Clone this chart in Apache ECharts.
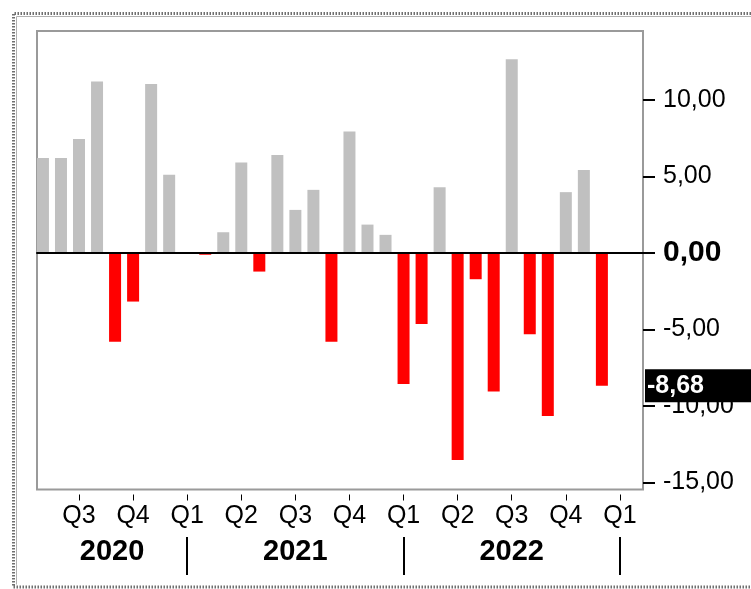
<!DOCTYPE html>
<html>
<head>
<meta charset="utf-8">
<script src="https://cdn.jsdelivr.net/npm/echarts@6/dist/echarts.min.js"></script>
<style>
html,body{margin:0;padding:0;background:#fff;}
#chart{width:751px;height:589px;}
</style>
</head>
<body>
<div id="chart"></div>
<script>
// Monthly values (month-end), April 2020 .. November 2022
const months = ['2020-04','2020-05','2020-06','2020-07','2020-08','2020-09','2020-10','2020-11','2020-12',
  '2021-01','2021-02','2021-03','2021-04','2021-05','2021-06','2021-07','2021-08','2021-09','2021-10','2021-11','2021-12',
  '2022-01','2022-02','2022-03','2022-04','2022-05','2022-06','2022-07','2022-08','2022-09','2022-10','2022-11'];
const values = [6.2, 6.2, 7.45, 11.2, -5.8, -3.18, 11.03, 5.1, 0.06,
  -0.12, 1.35, 5.9, -1.22, 6.4, 2.81, 4.12, -5.8, 7.93, 1.85, 1.18, -8.56,
  -4.64, 4.29, -13.53, -1.72, -9.06, 12.66, -5.32, -10.65, 3.97, 5.42, -8.68];
// Quarter ticks (index of the month whose end starts the quarter)
const quarterTicks = [2, 5, 8, 11, 14, 17, 20, 23, 26, 29, 32];
const quarterLabels = ['Q3','Q4','Q1','Q2','Q3','Q4','Q1','Q2','Q3','Q4','Q1'];
const yearSeparators = [8, 20, 32];
const yearLabels = ['2020', '2021', '2022'];
const yTicks = [-15, -10, -5, 0, 5, 10];
const lastValueLabel = '-8,68';

const X_MIN = -0.33, X_MAX = 33.28;
const yearLabelPos = yearSeparators.map((s, i) => ((i === 0 ? X_MIN : yearSeparators[i - 1]) + s) / 2);

const fmt = v => v.toFixed(2).replace('.', ',');
const FONT = '"Liberation Sans", Arial, sans-serif';

const chart = echarts.init(document.getElementById('chart'), null, {renderer: 'canvas'});
chart.setOption({
  animation: false,
  backgroundColor: '#fff',
  textStyle: {fontFamily: FONT},
  grid: {left: 37, top: 31, width: 606, height: 458.5, show: true, borderColor: '#9a9a9a', borderWidth: 2, backgroundColor: 'transparent'},
  xAxis: [
    {
      type: 'value', min: X_MIN, max: X_MAX, z: 5,
      axisLine: {show: true, onZero: true, lineStyle: {color: '#000', width: 2}},
      axisTick: {show: false}, axisLabel: {show: false}, splitLine: {show: false}
    },
    {
      type: 'value', min: X_MIN, max: X_MAX, position: 'bottom', offset: 5,
      axisLine: {show: false, onZero: false},
      axisTick: {show: true, customValues: quarterTicks, length: 6, lineStyle: {color: '#000', width: 1}},
      axisLabel: {
        show: true, customValues: quarterTicks, margin: 22, verticalAlign: 'middle',
        fontSize: 25, color: '#000', fontFamily: FONT,
        formatter: v => quarterLabels[quarterTicks.indexOf(Math.round(v))] || ''
      },
      splitLine: {show: false}
    },
    {
      type: 'value', min: X_MIN, max: X_MAX, position: 'bottom', offset: 47.5,
      axisLine: {show: false, onZero: false},
      axisTick: {show: true, customValues: yearSeparators, length: 38, lineStyle: {color: '#000', width: 2}},
      axisLabel: {
        show: true, customValues: yearLabelPos, margin: 15, verticalAlign: 'middle',
        fontSize: 29, fontWeight: 'bold', color: '#000', fontFamily: FONT,
        formatter: v => {
          const i = yearLabelPos.findIndex(p => Math.abs(p - v) < 0.01);
          return i >= 0 ? yearLabels[i] : '';
        }
      },
      splitLine: {show: false}
    }
  ],
  yAxis: {
    type: 'value', position: 'right', min: -15.46, max: 14.5,
    axisLine: {show: false, onZero: false},
    axisTick: {show: true, customValues: yTicks, length: 12, lineStyle: {color: '#000', width: 2}},
    axisLabel: {
      show: true, customValues: yTicks, margin: 20, fontSize: 25, color: '#000', fontFamily: FONT,
      formatter: v => v === 0 ? '{b|' + fmt(v) + '}' : fmt(v),
      rich: {b: {fontSize: 30, fontWeight: 'bold', color: '#000', fontFamily: FONT}}
    },
    splitLine: {show: false}
  },
  series: [{
    type: 'bar',
    xAxisIndex: 0,
    barWidth: 12,
    data: values.map((v, i) => [i, v]),
    itemStyle: {color: p => p.value[1] < 0 ? '#ff0000' : '#c0c0c0'},
    markLine: {
      silent: true,
      symbol: ['none', 'none'],
      lineStyle: {color: 'rgba(0,0,0,0)', width: 0, type: 'solid'},
      data: [{yAxis: values[values.length - 1]}],
      label: {
        show: true, position: 'end', distance: 2,
        formatter: lastValueLabel,
        color: '#fff', backgroundColor: '#000', fontWeight: 'bold', fontSize: 25, fontFamily: FONT,
        padding: [4, 48, 4, 2]
      }
    }
  }],
  graphic: [
    {type: 'polyline', silent: true, shape: {points: [[751, 13.5], [13.5, 13.5], [13.5, 587], [751, 587]]},
      style: {fill: null, stroke: '#6f6f6f', lineWidth: 3, lineDash: [1.5, 1.5]}},
    {type: 'polyline', silent: true, shape: {points: [[751, 16.5], [16.5, 16.5], [16.5, 584.5]]},
      style: {fill: null, stroke: '#b0b0b0', lineWidth: 1}}
  ]
});
</script>
</body>
</html>
